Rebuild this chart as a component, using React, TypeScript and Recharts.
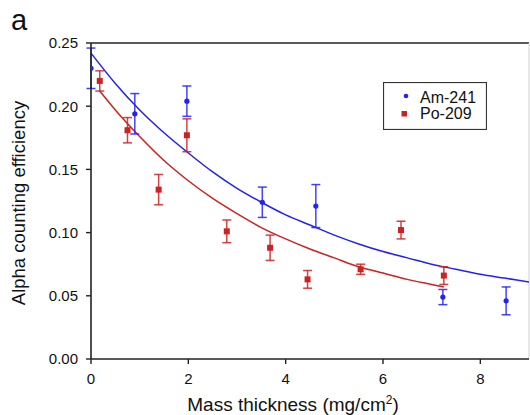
import { ComposedChart, Line, Scatter, ErrorBar, XAxis, YAxis, ReferenceLine, Legend, Label } from 'recharts';

const BLUE = '#2222f2';
const RED = '#cc2222';
const AXIS = '#222222';
const FONT = '"Liberation Sans", Arial, sans-serif';

// Am-241 measurements (mass thickness, efficiency, error)
const amX = [0, 0.9, 1.97, 3.52, 4.62, 7.23, 8.53];
const amY = [0.230, 0.194, 0.204, 0.124, 0.121, 0.049, 0.046];
const amErr = [0.016, 0.016, 0.012, 0.012, 0.017, 0.006, 0.011];

// Po-209 measurements
const poX = [0.18, 0.75, 1.39, 1.97, 2.79, 3.68, 4.45, 5.54, 6.37, 7.25];
const poY = [0.220, 0.181, 0.134, 0.177, 0.101, 0.088, 0.063, 0.071, 0.102, 0.066];
const poErr = [0.008, 0.010, 0.012, 0.013, 0.009, 0.010, 0.007, 0.004, 0.007, 0.007];

// fitted curves
const amFitX = [0, 0.5, 1, 1.5, 2, 2.5, 3, 3.5, 4, 4.5, 5, 5.5, 6, 6.5, 7, 7.5, 8, 8.5, 9];
const amFitY = [0.242, 0.218, 0.197, 0.179, 0.163, 0.148, 0.135, 0.124, 0.114, 0.106, 0.098, 0.091, 0.085, 0.080, 0.075, 0.071, 0.067, 0.064, 0.061];
const poFitX = [0.18, 0.5, 1, 1.5, 2, 2.5, 3, 3.5, 4, 4.5, 5, 5.5, 6, 6.5, 7, 7.25];
const poFitY = [0.212, 0.197, 0.176, 0.157, 0.141, 0.127, 0.115, 0.104, 0.095, 0.087, 0.080, 0.073, 0.068, 0.063, 0.059, 0.057];

const xTicks = [0, 2, 4, 6, 8];
const yTicks = [0, 0.05, 0.1, 0.15, 0.2, 0.25];

const amData = amX.map((x, i) => ({ x, y: amY[i], err: amErr[i] }));
const poData = poX.map((x, i) => ({ x, y: poY[i], err: poErr[i] }));
const amFit = amFitX.map((x, i) => ({ x, y: amFitY[i] }));
const poFit = poFitX.map((x, i) => ({ x, y: poFitY[i] }));

const BlueDot = (p: any) => <circle cx={p.cx} cy={p.cy} r={2.6} fill={BLUE} />;
const RedSquare = (p: any) => <rect x={p.cx - 3} y={p.cy - 3} width={6} height={6} fill={RED} />;

const LegendBox = () => (
  <svg width={104} height={48} style={{ display: 'block' }}>
    <rect x={0.5} y={0.5} width={103} height={47} fill="#fff" stroke="#333" strokeWidth={1.2} />
    <circle cx={23} cy={14} r={2.3} fill={BLUE} />
    <text x={37} y={20.5} fontSize={16} fontFamily={FONT} fill="#111">Am-241</text>
    <rect x={18.5} y={29} width={5.5} height={5.5} fill={RED} />
    <text x={37} y={37} fontSize={16} fontFamily={FONT} fill="#111">Po-209</text>
  </svg>
);

export default function App() {
  const tickStyle = { fontSize: 15, fontFamily: FONT, fill: '#111' };
  return (
    <div style={{ position: 'absolute', left: 0, top: 0, fontFamily: FONT }}>
      <ComposedChart width={530} height={415} margin={{ top: 43, right: 1, bottom: 0, left: 0 }}>
        <XAxis
          type="number"
          dataKey="x"
          domain={[0, 9]}
          ticks={xTicks}
          allowDataOverflow
          height={56}
          tickSize={5}
          tickMargin={9}
          tick={tickStyle}
          axisLine={{ stroke: AXIS, strokeWidth: 1.6 }}
          tickLine={{ stroke: AXIS, strokeWidth: 1.4 }}
        >
          <Label
            content={() => (
              <text x={293} y={411} textAnchor="middle" fontSize={19} fontFamily={FONT} fill="#111">
                Mass thickness (mg/cm<tspan dy={-7} fontSize={12}>2</tspan><tspan dy={7}>)</tspan>
              </text>
            )}
          />
        </XAxis>
        <YAxis
          type="number"
          dataKey="y"
          domain={[0, 0.25]}
          ticks={yTicks}
          allowDataOverflow
          width={91}
          tickSize={5}
          tickMargin={8}
          tick={tickStyle}
          tickFormatter={(v: number) => v.toFixed(2)}
          axisLine={{ stroke: AXIS, strokeWidth: 1.6 }}
          tickLine={{ stroke: AXIS, strokeWidth: 1.4 }}
        >
          <Label
            content={() => (
              <g>
                <text x={25} y={203} transform="rotate(-90 25 203)" textAnchor="middle" fontSize={18.5} fontFamily={FONT} fill="#111">
                  Alpha counting efficiency
                </text>
                <text x={11} y={30} fontSize={29} fontFamily={FONT} fill="#111">a</text>
              </g>
            )}
          />
        </YAxis>
        <ReferenceLine y={0.25} stroke={AXIS} strokeWidth={1.6} />
        <ReferenceLine x={9} stroke="#cfcfcf" strokeWidth={1} />
        <Line data={amFit} dataKey="y" type="monotone" stroke={BLUE} strokeWidth={1.5} dot={false} activeDot={false} isAnimationActive={false} />
        <Line data={poFit} dataKey="y" type="monotone" stroke={RED} strokeWidth={1.5} dot={false} activeDot={false} isAnimationActive={false} />
        <Scatter data={amData} dataKey="y" shape={BlueDot} isAnimationActive={false}>
          <ErrorBar dataKey="err" direction="y" width={4.5} stroke={BLUE} strokeWidth={1.5} strokeOpacity={0.85} isAnimationActive={false} />
        </Scatter>
        <Scatter data={poData} dataKey="y" shape={RedSquare} isAnimationActive={false}>
          <ErrorBar dataKey="err" direction="y" width={4.5} stroke={RED} strokeWidth={1.5} strokeOpacity={0.85} isAnimationActive={false} />
        </Scatter>
        <Legend
          layout="vertical"
          align="center"
          verticalAlign="middle"
          content={() => <LegendBox />}
          wrapperStyle={{ position: 'absolute', left: 383, top: 82, width: 104, height: 48 }}
        />
      </ComposedChart>
    </div>
  );
}
